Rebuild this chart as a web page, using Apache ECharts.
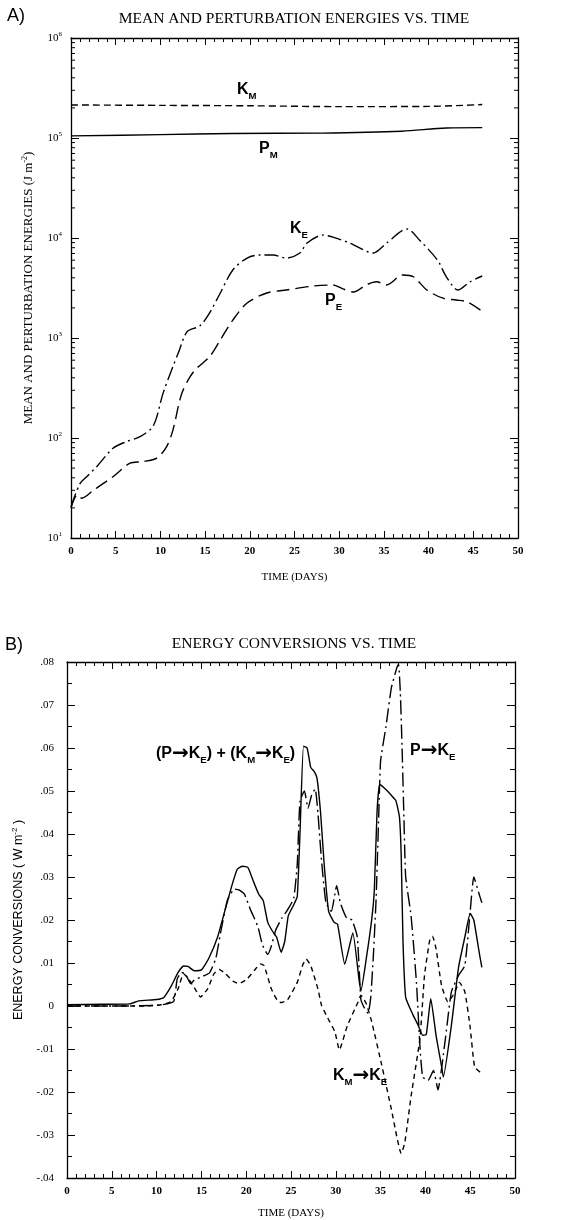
<!DOCTYPE html>
<html>
<head>
<meta charset="utf-8">
<script src="https://cdn.jsdelivr.net/npm/echarts@6/dist/echarts.min.js"></script>
<style>
html, body { margin: 0; padding: 0; background: #fff; }
#chart { width: 588px; height: 1220px; }
</style>
</head>
<body>
<div id="chart"></div>
<script>
// ---- panel A : mean and perturbation energies (J m-2), log scale ----
var kmDays = [0, 10, 20, 30, 40, 46];
var kmVals = [2.14e5, 2.12e5, 2.1e5, 2.06e5, 2.07e5, 2.16e5];

var pmDays = [0, 10, 18, 28, 37, 42, 46];
var pmVals = [1.05e5, 1.08e5, 1.11e5, 1.12e5, 1.17e5, 1.26e5, 1.27e5];

var keDays = [0, 1, 1.75, 2.9, 4.7, 6.2, 7.7, 9.2, 10.3, 11.4, 12, 13, 14.4, 15.5, 16.7, 18.1, 19.7, 21.1, 22.6, 24.1, 25.6, 26.4, 28.2, 29.3, 31.2, 33.8, 35.3, 37.6, 39, 41, 42, 43.3, 44.6, 46];
var keVals = [20.6, 35, 41, 52, 79, 92, 103, 132, 281, 518, 707, 1160, 1320, 1780, 2820, 4790, 6300, 6760, 6760, 6300, 7080, 8900, 10700, 10200, 8900, 7080, 8900, 12300, 9500, 6000, 4070, 3020, 3630, 4170];

var peDays = [0, 0.7, 1.2, 2.5, 4.7, 6.6, 8, 9.6, 10.7, 11.4, 12.4, 13.7, 15.5, 16.7, 18.1, 19.7, 21.9, 24.1, 27.1, 29.3, 30.4, 31.6, 33, 34.2, 35.3, 37.1, 38.3, 39.8, 41.6, 43.1, 44.3, 45.8];
var peVals = [20, 27, 25, 30, 41, 56, 58, 63, 82, 120, 280, 460, 650, 955, 1510, 2240, 2820, 3020, 3310, 3390, 3100, 2880, 3390, 3650, 3390, 4270, 4100, 3020, 2500, 2400, 2300, 1900];

var logDecades = [10, 100, 1000, 10000, 100000];
var logMinorSteps = [2, 3, 4, 5, 6, 7, 8, 9];

// ---- panel B : energy conversions (W m-2) ----
var sumDays = [0, 4, 7, 8, 10, 10.8, 11.6, 12.4, 13, 13.5, 14.2, 15, 15.8, 16.8, 17.6, 18.4, 19, 19.6, 20.2, 20.8, 21.4, 21.9, 22.4, 22.9, 23.4, 23.9, 24.3, 24.7, 25.3, 25.7, 26, 26.4, 26.8, 27.2, 27.6, 27.9, 28.3, 28.7, 29.2, 29.8, 30.2, 31, 31.9, 32.6, 32.8, 33.4, 34, 34.3, 34.6, 34.9, 35.5, 36.2, 36.7, 37.1, 37.3, 37.5, 37.8, 38.6, 39.2, 39.7, 40.1, 40.6, 41.2, 41.8, 42, 42.9, 43.7, 44.4, 45, 45.4, 46, 46.3];
var sumVals = [0.0003, 0.0004, 0.0005, 0.0012, 0.0015, 0.002, 0.0045, 0.0078, 0.0093, 0.0092, 0.0082, 0.0084, 0.011, 0.016, 0.022, 0.028, 0.0318, 0.0325, 0.0322, 0.029, 0.026, 0.0245, 0.0195, 0.0175, 0.016, 0.0125, 0.015, 0.021, 0.0235, 0.0255, 0.04, 0.0604, 0.06, 0.0555, 0.0545, 0.053, 0.045, 0.033, 0.022, 0.0195, 0.019, 0.0097, 0.017, 0.006, 0.0035, 0.011, 0.02, 0.027, 0.045, 0.0515, 0.0505, 0.049, 0.0478, 0.044, 0.035, 0.015, 0.002, -0.002, -0.0045, -0.0068, -0.0066, 0.0017, -0.007, -0.014, -0.0165, -0.0045, 0.009, 0.016, 0.0215, 0.02, 0.0125, 0.009];

var pkDays = [0, 6, 10.4, 11.9, 12.3, 12.8, 13.2, 13.8, 14.2, 14.9, 15.9, 16.6, 17.2, 17.9, 18.7, 19.2, 19.8, 20.5, 21.3, 21.8, 22.4, 22.8, 23.3, 24, 24.6, 25.3, 25.7, 26, 26.5, 26.9, 27.3, 27.7, 28, 28.4, 28.9, 29.5, 30.1, 30.5, 31.2, 31.8, 32.4, 32.8, 33.2, 33.6, 33.9, 34.2, 34.5, 34.8, 35, 35.6, 36.2, 36.8, 37, 37.2, 37.4, 37.6, 37.8, 38.4, 39, 39.4, 39.7, 40.3, 40.9, 41.4, 42.2, 42.9, 43.7, 44.4, 45, 45.4, 46, 46.3];
var pkVals = [0, 0, 0.0002, 0.0011, 0.0063, 0.0078, 0.0075, 0.0052, 0.006, 0.0067, 0.0077, 0.011, 0.0177, 0.0246, 0.0272, 0.027, 0.026, 0.0223, 0.0185, 0.0143, 0.012, 0.0139, 0.0177, 0.0205, 0.0223, 0.025, 0.033, 0.0476, 0.05, 0.046, 0.049, 0.0505, 0.045, 0.034, 0.024, 0.022, 0.028, 0.024, 0.0205, 0.02, 0.016, 0.0015, -0.0005, -0.0017, 0.002, 0.012, 0.025, 0.045, 0.057, 0.065, 0.074, 0.0786, 0.0795, 0.073, 0.06, 0.044, 0.03, 0.021, 0.0055, -0.0097, -0.0165, -0.0173, -0.015, -0.0195, -0.0081, 0.0033, 0.0071, 0.0094, 0.022, 0.03, 0.026, 0.024];

var kmkDays = [0, 8.6, 10.5, 11.6, 12.4, 13, 13.5, 14.4, 14.9, 15.7, 16.4, 17, 17.7, 18.5, 19.2, 20.1, 21, 21.6, 22, 22.8, 23.5, 23.9, 24.6, 25.7, 26.3, 26.7, 27.2, 28, 28.4, 29.1, 29.9, 30.4, 31.3, 32.5, 32.8, 33.4, 34, 35.1, 36.2, 37.3, 37.7, 38.4, 39.4, 39.9, 40.5, 40.8, 41.2, 41.8, 42.5, 43.1, 43.8, 44.4, 45, 45.5, 46.3];
var kmkVals = [0, 0, 0.0003, 0.001, 0.004, 0.0075, 0.0065, 0.0036, 0.0021, 0.004, 0.0075, 0.0085, 0.0075, 0.0058, 0.0052, 0.0063, 0.0085, 0.0098, 0.0094, 0.004, 0.0012, 0.0008, 0.0014, 0.0055, 0.0095, 0.0109, 0.0094, 0.004, 0.0002, -0.0028, -0.006, -0.0102, -0.0045, 0.001, 0.0025, 0.0005, -0.0036, -0.0135, -0.024, -0.0343, -0.0318, -0.021, -0.0074, 0.0071, 0.0155, 0.0162, 0.0132, 0.0048, 0.001, 0.0025, 0.0055, 0.0033, -0.005, -0.0142, -0.0157];

var serif = '"Liberation Serif", "Times New Roman", serif';
var sans = '"Liberation Sans", Arial, sans-serif';

var pair = function (days, vals) {
    return days.map(function (d, i) { return [d, vals[i]]; });
};

var logMinor = [];
logDecades.forEach(function (d) {
    logMinorSteps.forEach(function (s) { logMinor.push([0, d * s]); });
});

var line = function (name, data, dash, xi, yi) {
    return {
        name: name,
        type: 'line',
        xAxisIndex: xi,
        yAxisIndex: yi,
        data: data,
        symbol: 'none',
        smooth: xi === 0 ? 0.3 : 0.15,
        silent: true,
        lineStyle: { color: '#000', width: 1.4, type: dash }
    };
};

var xAx = function (grid, pos, withLabel, gap) {
    return {
        gridIndex: grid, type: 'value', position: pos,
        min: 0, max: 50, interval: 5,
        axisLine: { onZero: false, lineStyle: { color: '#000', width: 1.3 } },
        axisTick: { inside: true, length: 7, lineStyle: { color: '#000' } },
        minorTick: { show: true, splitNumber: 5, length: 4, lineStyle: { color: '#000' } },
        splitLine: { show: false },
        axisLabel: { show: withLabel, color: '#000', fontFamily: serif, fontSize: 11, fontWeight: 'bold', margin: 8 },
        name: withLabel ? 'TIME (DAYS)' : '',
        nameLocation: 'middle', nameGap: gap,
        nameTextStyle: { color: '#000', fontFamily: serif, fontSize: 11 }
    };
};

var supStyle = function (family) {
    return { fontFamily: family, fontSize: 8, color: '#000', lineHeight: 7, verticalAlign: 'top' };
};

var logAx = function (pos, withLabel) {
    return {
        gridIndex: 0, type: 'log', logBase: 10, position: pos,
        min: 10, max: 1e6,
        axisLine: { onZero: false, lineStyle: { color: '#000', width: 1.3 } },
        axisTick: { inside: true, length: 8, lineStyle: { color: '#000' } },
        splitLine: { show: false },
        axisLabel: {
            show: withLabel, margin: 9,
            formatter: function (v) { return '{b|10}{s|' + Math.round(Math.log10(v)) + '}'; },
            rich: {
                b: { fontFamily: serif, fontSize: 11, color: '#000', lineHeight: 14 },
                s: { fontFamily: serif, fontSize: 7, color: '#000', lineHeight: 7, verticalAlign: 'top' }
            }
        },
        name: withLabel ? 'MEAN AND PERTURBATION ENERGIES (J m{s|-2})' : '',
        nameLocation: 'middle', nameGap: 30,
        nameTextStyle: {
            color: '#000', fontFamily: serif, fontSize: 13, lineHeight: 16,
            rich: { s: supStyle(serif) }
        }
    };
};

var convAx = function (pos, withLabel) {
    return {
        gridIndex: 1, type: 'value', position: pos,
        min: -0.04, max: 0.08, interval: 0.01,
        axisLine: { onZero: false, lineStyle: { color: '#000', width: 1.3 } },
        axisTick: { inside: true, length: 8, lineStyle: { color: '#000' } },
        minorTick: { show: true, splitNumber: 2, length: 5, lineStyle: { color: '#000' } },
        splitLine: { show: false },
        axisLabel: {
            show: withLabel, color: '#000', fontFamily: serif, fontSize: 11, margin: 13,
            formatter: function (v) {
                if (Math.abs(v) < 1e-9) return '0';
                var s = Math.abs(v).toFixed(2).replace(/^0/, '');
                return (v < 0 ? '-' : '') + s;
            }
        },
        name: withLabel ? 'ENERGY CONVERSIONS ( W m{s|-2} )' : '',
        nameLocation: 'middle', nameGap: 35,
        nameTextStyle: {
            color: '#000', fontFamily: sans, fontSize: 12.5, lineHeight: 15,
            rich: { s: supStyle(sans) }
        }
    };
};

// bold label with subscripts and arrows: parts = [[text, kind], ...] kind m/s/a
var tag = function (x, y, parts, size) {
    var txt = parts.map(function (p) { return '{' + p[1] + '|' + p[0] + '}'; }).join('');
    return {
        type: 'text', x: x, y: y, silent: true,
        style: {
            text: txt, verticalAlign: 'top',
            rich: {
                m: { fontFamily: sans, fontWeight: 'bold', fontSize: size, lineHeight: size + 6, fill: '#000' },
                a: { fontFamily: '"DejaVu Sans"', fontWeight: 'bold', fontSize: size + 4, lineHeight: size + 6, fill: '#000' },
                s: { fontFamily: sans, fontWeight: 'bold', fontSize: size * 0.6, lineHeight: 6, verticalAlign: 'bottom', fill: '#000' }
            }
        }
    };
};

var chart = echarts.init(document.getElementById('chart'), null, { renderer: 'canvas' });
chart.setOption({
    animation: false,
    backgroundColor: '#fff',
    title: [
        { text: 'MEAN AND PERTURBATION ENERGIES VS. TIME', left: 'center', top: 6,
          textStyle: { fontFamily: serif, fontWeight: 'normal', fontSize: 15.5, color: '#000' } },
        { text: 'ENERGY CONVERSIONS VS. TIME', left: 'center', top: 631,
          textStyle: { fontFamily: serif, fontWeight: 'normal', fontSize: 15.5, color: '#000' } },
        { text: 'A)', left: 2, top: 2, textStyle: { fontFamily: sans, fontWeight: 'normal', fontSize: 18, color: '#000' } },
        { text: 'B)', left: 0, top: 631, textStyle: { fontFamily: sans, fontWeight: 'normal', fontSize: 18, color: '#000' } }
    ],
    grid: [
        { left: 71, top: 38, width: 447, height: 500 },
        { left: 67, top: 662, width: 448, height: 516 }
    ],
    xAxis: [xAx(0, 'bottom', true, 34), xAx(0, 'top', false, 0), xAx(1, 'bottom', true, 30), xAx(1, 'top', false, 0)],
    yAxis: [logAx('left', true), logAx('right', false), convAx('left', true), convAx('right', false)],
    series: [
        line('KM', pair(kmDays, kmVals), [7, 4], 0, 0),
        line('PM', pair(pmDays, pmVals), 'solid', 0, 0),
        line('KE', pair(keDays, keVals), [14, 4, 2, 4], 0, 0),
        line('PE', pair(peDays, peVals), [13, 6], 0, 0),
        {
            type: 'custom', xAxisIndex: 0, yAxisIndex: 0, silent: true, clip: false,
            data: logMinor,
            renderItem: function (params, api) {
                var y = api.coord([0, api.value(1)])[1];
                var cs = params.coordSys;
                var st = { stroke: '#000', lineWidth: 1 };
                return {
                    type: 'group', children: [
                        { type: 'line', shape: { x1: cs.x, y1: y, x2: cs.x + 4, y2: y }, style: st },
                        { type: 'line', shape: { x1: cs.x + cs.width - 4, y1: y, x2: cs.x + cs.width, y2: y }, style: st }
                    ]
                };
            }
        },
        line('sum', pair(sumDays, sumVals), 'solid', 2, 2),
        line('P->KE', pair(pkDays, pkVals), [14, 4, 2, 4], 2, 2),
        line('KM->KE', pair(kmkDays, kmkVals), [5, 4], 2, 2)
    ],
    graphic: [
        tag(237, 79, [['K', 'm'], ['M', 's']], 16),
        tag(259, 138, [['P', 'm'], ['M', 's']], 16),
        tag(290, 218, [['K', 'm'], ['E', 's']], 16),
        tag(325, 290, [['P', 'm'], ['E', 's']], 16),
        tag(156, 743, [['(P', 'm'], ['\u2192', 'a'], ['K', 'm'], ['E', 's'], [') + (K', 'm'], ['M', 's'], ['\u2192', 'a'], ['K', 'm'], ['E', 's'], [')', 'm']], 16),
        tag(410, 740, [['P', 'm'], ['\u2192', 'a'], ['K', 'm'], ['E', 's']], 16),
        tag(333, 1065, [['K', 'm'], ['M', 's'], ['\u2192', 'a'], ['K', 'm'], ['E', 's']], 16)
    ]
});
</script>
</body>
</html>
